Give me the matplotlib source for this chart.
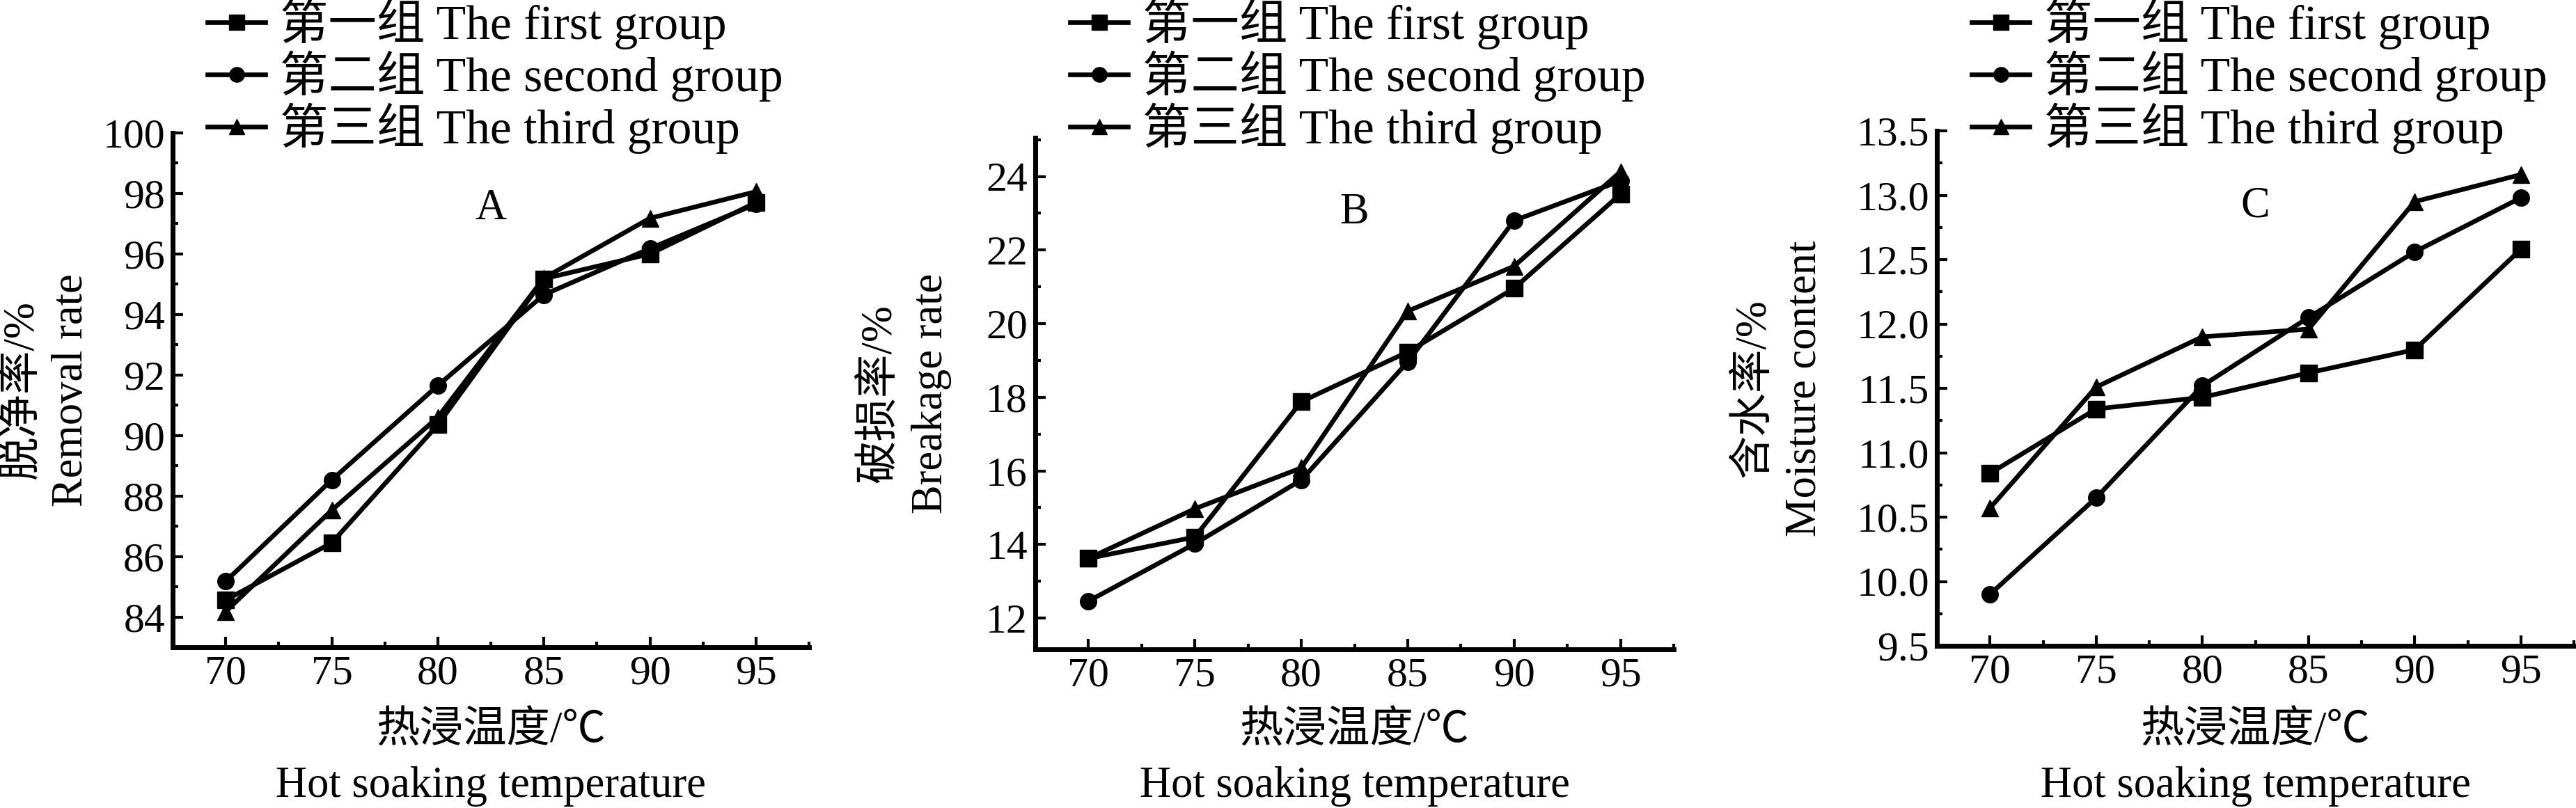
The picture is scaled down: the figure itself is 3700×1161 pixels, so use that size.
import matplotlib
matplotlib.use("Agg")
import matplotlib.pyplot as plt
from matplotlib.ticker import MultipleLocator

plt.rcParams['font.family'] = ['Liberation Serif', 'Noto Sans CJK SC', 'DejaVu Sans']

# ---------------- data ----------------
temps = [70, 75, 80, 85, 90, 95]
series_labels = ["第一组 The first group", "第二组 The second group", "第三组 The third group"]
markers = ['s', 'o', '^']

removal_g1 = [84.56, 86.45, 90.35, 95.18, 96.00, 97.70]
removal_g2 = [85.18, 88.53, 91.65, 94.65, 96.18, 97.65]
removal_g3 = [84.18, 87.53, 90.60, 95.20, 97.18, 98.06]

breakage_g1 = [13.62, 14.20, 17.88, 19.23, 20.96, 23.52]
breakage_g2 = [12.46, 14.02, 15.75, 18.96, 22.80, 23.88]
breakage_g3 = [13.62, 14.97, 16.08, 20.34, 21.56, 24.13]

moisture_g1 = [10.84, 11.34, 11.43, 11.62, 11.80, 12.58]
moisture_g2 = [9.90, 10.65, 11.52, 12.05, 12.56, 12.98]
moisture_g3 = [10.57, 11.51, 11.90, 11.96, 12.95, 13.16]

panel_letters = ["A", "B", "C"]
ylabels_cn = ["脱净率/%", "破损率/%", "含水率/%"]
ylabels_en = ["Removal rate", "Breakage rate", "Moisture content"]
xlabel_cn = "热浸温度/℃"
xlabel_en = "Hot soaking temperature"

# ---------------- layout (pixels) ----------------
W, H = 3700, 1161
DPI = 100
fig = plt.figure(figsize=(W / DPI, H / DPI), dpi=DPI)

boxes = [(248, 1162, 191, 930), (1487, 2404, 198, 933), (2782, 3697, 188, 928)]
ylims = [(83, 100), (11.15, 25.05), (9.5, 13.5)]
ymaj = [2, 2, 0.5]
ymin = [1, 1, 0.25]
yfmt = ["{:.0f}", "{:.0f}", "{:.1f}"]
cn_off = [217, 223, 262]
en_off = [145, 149, 190]
data = [
    (removal_g1, removal_g2, removal_g3),
    (breakage_g1, breakage_g2, breakage_g3),
    (moisture_g1, moisture_g2, moisture_g3),
]

TICK_FS = 43
LEG_FS = 50
LAB_FS = 45
LW = 4.8
MS = 17

for i in range(3):
    l, r, t, b = boxes[i]
    ax = fig.add_axes([l / W, (H - b) / H, (r - l) / W, (b - t) / H])
    for j, ys in enumerate(data[i]):
        ax.plot(temps, ys, color='black', lw=LW, marker=markers[j], ms=MS,
                mfc='black', mec='black', label=series_labels[j])
    ax.set_xlim(67.5, 97.5)
    ax.set_ylim(*ylims[i])
    ax.xaxis.set_major_locator(MultipleLocator(5))
    ax.xaxis.set_minor_locator(MultipleLocator(2.5))
    ax.yaxis.set_major_locator(MultipleLocator(ymaj[i]))
    ax.yaxis.set_minor_locator(MultipleLocator(ymin[i]))
    fmt = yfmt[i]
    ax.yaxis.set_major_formatter(matplotlib.ticker.FuncFormatter(lambda v, p, f=fmt: f.format(v)))
    for s in ['top', 'right']:
        ax.spines[s].set_visible(False)
    for s in ['left', 'bottom']:
        ax.spines[s].set_linewidth(5)
    ax.tick_params(which='major', direction='in', length=11, width=3, labelsize=TICK_FS, pad=8)
    ax.tick_params(which='minor', direction='in', length=6, width=3)
    ax.patch.set_alpha(0)

    ax.text(0.5, 0.853, panel_letters[i], transform=ax.transAxes, ha='center', va='center',
            fontsize=LAB_FS)

    yc = (H - (t + b) / 2) / H
    fig.text((l - cn_off[i]) / W, yc, ylabels_cn[i], rotation=90, ha='center', va='center',
             fontsize=LAB_FS)
    fig.text((l - en_off[i]) / W, yc, ylabels_en[i], rotation=90, ha='center', va='center',
             fontsize=LAB_FS)
    xc = ((l + r) / 2) / W
    fig.text(xc, (H - 1052) / H, xlabel_cn, ha='center', va='center', fontsize=LAB_FS)
    fig.text(xc, (H - 1130) / H, xlabel_en, ha='center', va='center', fontsize=LAB_FS)

    ax.legend(loc='upper left', bbox_to_anchor=((l + 50) / W, (H + 2) / H),
              bbox_transform=fig.transFigure, frameon=False, fontsize=LEG_FS,
              handlelength=1.2, handletextpad=0.3, labelspacing=0.02,
              borderaxespad=0, borderpad=0, markerscale=0.9)

fig.savefig("out.png", dpi=DPI)
